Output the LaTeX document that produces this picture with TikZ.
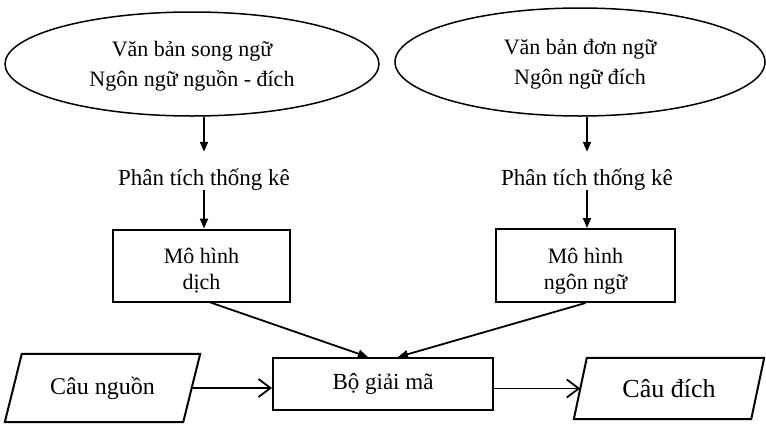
\documentclass[tikz,border=0pt]{standalone}
\usepackage{fontspec}
\setmainfont{Liberation Serif}
\usetikzlibrary{arrows.meta,shapes.geometric,calc}
\begin{document}
\begin{tikzpicture}[x=1pt,y=-1pt,
  ell/.style={draw, ellipse, line width=1.5pt, inner sep=0pt, align=center, font=\fontsize{22}{30}\selectfont},
  lbl/.style={inner sep=0pt, text height=17pt, text depth=5pt, font=\fontsize{23}{28}\selectfont},
  bx/.style={draw, rectangle, line width=2pt, inner sep=0pt, align=center, font=\fontsize{22}{26}\selectfont},
  para/.style={rectangle, inner sep=0pt},
  pline/.style={line width=2pt, line join=miter},
  conn/.style={line width=1.8pt, -{Triangle[length=10pt,width=8pt]}},
  hconn/.style={line width=1.8pt, -{Straight Barb[length=12pt,width=18pt,line width=1.8pt]}},
]
\useasboundingbox (0,0) rectangle (766,424);

% top ellipses
\node[ell, minimum width=374pt, minimum height=104pt] (e1) at (192,64) {\rule{0pt}{20pt}Văn bản song ngữ\\Ngôn ngữ nguồn - đích};
\node[ell, minimum width=370pt, minimum height=108pt] (e2) at (580,62) {\rule{0pt}{20pt}Văn bản đơn ngữ\\Ngôn ngữ đích};

% labels
\node[lbl] (p1) at (204,179) {Phân tích thống kê};
\node[lbl] (p2) at (587,179) {Phân tích thống kê};

% model boxes
\node[bx, minimum width=177pt, minimum height=72pt] (b1) at (201.5,265.5) {\rule{0pt}{26pt}Mô hình\\dịch};
\node[bx, minimum width=179pt, minimum height=73pt] (b2) at (585.5,265.5) {\rule{0pt}{26pt}Mô hình\\ngôn ngữ};

% decoder
\node[bx, minimum width=220pt, minimum height=52pt, font=\fontsize{23}{27}\selectfont] (dec) at (383,384) {Bộ giải mã};

% parallelograms
\node[para, minimum width=178pt, minimum height=68pt, font=\fontsize{24}{28}\selectfont] (src) at (102.5,388) {Câu nguồn};
\draw[pline] ([xshift=8.5pt]src.north west) -- ([xshift=8.5pt]src.north east)
  -- ([xshift=-8.5pt]src.south east) -- ([xshift=-8.5pt]src.south west) -- cycle;
\node[para, minimum width=177pt, minimum height=61pt, font=\fontsize{26}{30}\selectfont] (tgt) at (669,388.5) {Câu đích};
\draw[pline] ([xshift=6.5pt]tgt.north west) -- ([xshift=6.5pt]tgt.north east)
  -- ([xshift=-6.5pt]tgt.south east) -- ([xshift=-6.5pt]tgt.south west) -- cycle;

% connectors
\draw[conn] (e1.south -| p1) -- ([yshift=16pt]p1.north);
\draw[conn] (p1.south) -- (b1.north -| p1);
\draw[conn] (e2.south -| p2) -- ([yshift=16pt]p2.north);
\draw[conn] (p2.south) -- (b2.north -| p2);
\draw[conn] ([xshift=9pt]b1.south) -- ([xshift=-15pt]dec.north);
\draw[conn] (b2.south) -- ([xshift=15pt]dec.north);
\draw[hconn] (src.east) -- (src.east -| dec.west);
\draw[hconn] (dec.east |- tgt.west) -- (tgt.west);
\end{tikzpicture}
\end{document}
